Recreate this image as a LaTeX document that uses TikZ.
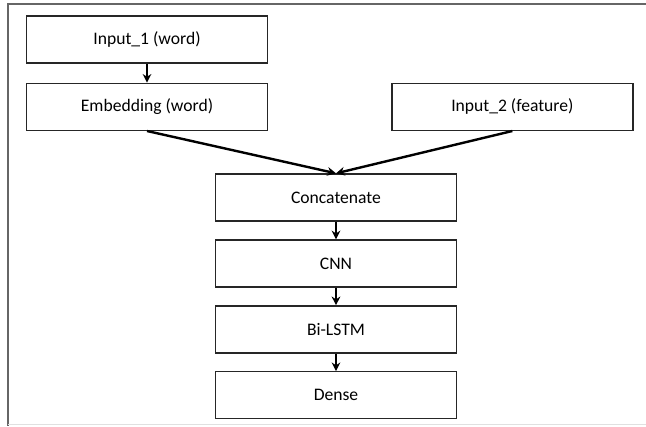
\documentclass[tikz,border=0pt]{standalone}
\usepackage{fontspec}
\setmainfont{Carlito}
\usetikzlibrary{arrows.meta,positioning}

\begin{document}
\begin{tikzpicture}[x=0.75pt,y=-0.75pt,>={Stealth[length=6.5pt,width=6.5pt]},node distance=13.2pt]
    \tikzstyle{layer}=[draw=black!85,line width=1pt,minimum width=180.75pt,minimum height=35.25pt,inner sep=0pt,font=\fontsize{13.2}{15}\selectfont]
    \tikzstyle{flow}=[->,line width=1.8pt]
    \useasboundingbox (0,0) rectangle (646,426);
    % frame
    \coordinate (tl) at (7.5,4);
    \coordinate (tr) at (646,4);
    \coordinate (bl) at (7.5,426);
    \coordinate (br) at (646,424.5);
    \draw[black!60,line width=1.5pt] (tr) -- (tl) -- (bl);
    \draw[black!12,line width=1pt] (7.5,424.5) -- (br);
    % layers
    \node[layer]  (in1)   at (147,39.5)          {Input\_1 (word)};
    \node[layer]  (emb)   [below=14.25pt of in1] {Embedding (word)};
    \node[layer]  (in2)   [right=92.25pt of emb] {Input\_2 (feature)};
    \node[layer]  (cat)   at (336,197.5)         {Concatenate};
    \node[layer]  (cnn)   [below=of cat]         {CNN};
    \node[layer]  (lstm)  [below=of cnn]         {Bi-LSTM};
    \node[layer]  (dense) [below=of lstm]        {Dense};
    \draw[flow] (in1) -- (emb);
    \draw[flow] (emb.south) -- (cat.north);
    \draw[flow] (in2.south) -- (cat.north);
    \draw[flow] (cat) -- (cnn);
    \draw[flow] (cnn) -- (lstm);
    \draw[flow] (lstm) -- (dense);
\end{tikzpicture}
\end{document}
